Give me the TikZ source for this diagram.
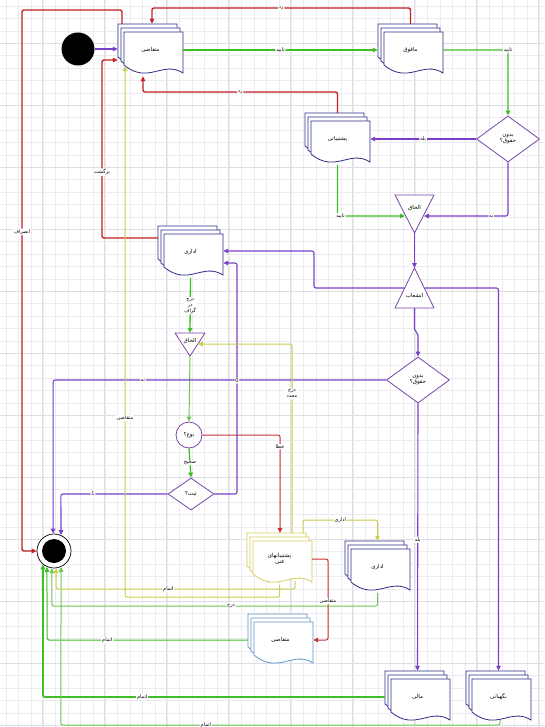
\documentclass[tikz,border=0pt]{standalone}
\usepackage{fontspec}
\usetikzlibrary{arrows.meta,shapes.geometric,calc}
\newfontfamily\farsifont[Script=Arabic]{DejaVu Sans}
\TeXXeTstate=1
\newcommand\rl[1]{\beginR#1\endR}
\definecolor{cRed}{RGB}{196,32,36}
\definecolor{cDRed}{RGB}{200,50,55}
\definecolor{cGreen}{RGB}{64,190,40}
\definecolor{cLGreen}{RGB}{110,200,80}
\definecolor{cPurple}{RGB}{120,65,200}
\definecolor{cYellow}{RGB}{205,205,75}
\definecolor{cYNode}{RGB}{215,205,90}
\definecolor{cNavy}{RGB}{45,45,135}
\definecolor{cBlue}{RGB}{95,150,200}
\definecolor{cTri}{RGB}{120,70,170}
\definecolor{cGrid}{RGB}{236,236,240}
\definecolor{cGridM}{RGB}{222,222,228}
\newcommand\onedoc[3]{\filldraw[draw=#3,fill=white,line width=0.8pt] (#1,#2) -- ++(59,0) -- ++(0,41) .. controls +(-20,-13) and +(24,20) .. ++(-59,-8) -- cycle;}
\newcommand\mdoc[5]{\onedoc{#2}{#3}{#4}\onedoc{#2+3}{#3+4}{#4}\onedoc{#2+6}{#3+8}{#4}\node[docn] (#1) at (#2+32.5,#3+26) {#5};}
\begin{document}
\begin{tikzpicture}[x=1pt,y=-1pt,
  >={Triangle[length=5pt,width=4.5pt]},
  every node/.style={font=\farsifont\fontsize{5.5}{6.5}\selectfont},
  docn/.style={minimum width=65pt,minimum height=52pt,inner sep=0pt,align=center},
  lab/.style={fill=white,inner sep=0.8pt,font=\farsifont\fontsize{5}{6}\selectfont,align=center},
  dia/.style={diamond,draw=cTri,fill=white,line width=0.8pt,inner sep=0pt,align=center},
  tri/.style={draw=cTri,fill=white,line width=0.8pt,line join=round},
  trin/.style={inner sep=0pt},
  redl/.style={draw=cRed,line width=1.4pt,rounded corners=2pt},
  dredl/.style={draw=cDRed,line width=1pt,rounded corners=2pt},
  grl/.style={draw=cGreen,line width=1.3pt,rounded corners=2pt},
  glt/.style={draw=cLGreen,line width=1pt,rounded corners=2pt},
  gthick/.style={draw=cGreen,line width=1.8pt,rounded corners=2pt},
  pl/.style={draw=cPurple,line width=1.1pt,rounded corners=2pt},
  yl/.style={draw=cYellow,line width=1pt,rounded corners=2pt}]
\fill[white] (0,0) rectangle (544,727);
\useasboundingbox (0,0) rectangle (544,727);
\foreach \gx in {6,18.4,...,544} \draw[cGrid,line width=0.35pt] (\gx,0) -- (\gx,727);
\foreach \gy in {6,18.4,...,727} \draw[cGrid,line width=0.35pt] (0,\gy) -- (544,\gy);
\foreach \gx in {42,104,...,544} \draw[cGridM,line width=0.4pt] (\gx,0) -- (\gx,727);
\foreach \gy in {43,105,...,727} \draw[cGridM,line width=0.4pt] (0,\gy) -- (544,\gy);
% start / stop
\node[circle,fill=black,minimum size=33pt,inner sep=0pt] (start) at (78,49) {};
\node[circle,draw=black,fill=white,minimum size=34pt,inner sep=0pt,line width=0.7pt] (stop) at (54,551) {};
\fill[black] (stop) circle (12pt);
% documents
\mdoc{app}{118}{24}{cNavy}{\rl{متقاضی}}
\mdoc{boss}{378}{24}{cNavy}{\rl{مافوق}}
\mdoc{supp}{305}{113}{cNavy}{\rl{پشتیبانی}}
\mdoc{adm}{158}{226}{cNavy}{\rl{اداری}}
\mdoc{tech}{247}{533}{cYNode}{\rl{پشتیبانهای}\\\rl{فنی}}
\mdoc{admb}{345}{541}{cNavy}{\rl{اداری}}
\mdoc{appb}{248}{614}{cBlue}{\rl{متقاضی}}
\mdoc{mali}{385}{671}{cNavy}{\rl{مالی}}
\mdoc{guard}{466}{671}{cNavy}{\rl{نگهبانی}}
% decisions
\node[dia,minimum width=63pt,minimum height=46pt] (q1) at (508,139) {\rl{بدون}\\\rl{حقوق؟}};
\node[dia,minimum width=63pt,minimum height=46pt] (q2) at (418,380) {\rl{بدون}\\\rl{حقوق؟}};
\node[dia,minimum width=46pt,minimum height=32pt] (q3) at (191,494) {\rl{ثبت؟}};
\node[circle,draw=cTri,fill=white,line width=0.8pt,minimum size=26pt,inner sep=0pt] (type) at (189,435) {\rl{نوع؟}};
% triangles
\filldraw[tri] (395,195) -- (434,195) -- (414.5,233) -- cycle;
\node[trin] (j1) at (414.5,208) {\rl{الحاق}};
\coordinate (j1a) at (414.5,233);
\coordinate (j1l) at (405,216);
\coordinate (j1r) at (424,216);
\filldraw[tri] (414.5,268) -- (434,308) -- (395,308) -- cycle;
\node[trin] (fork) at (414.5,296) {\rl{انشعاب}};
\coordinate (forka) at (414.5,268);
\coordinate (forkb) at (414.5,308);
\coordinate (forkl) at (404.7,288);
\coordinate (forkr) at (424.3,288);
\filldraw[tri] (175,333) -- (205,333) -- (190,356) -- cycle;
\node[trin] (j2) at (190,341) {\rl{الحاق}};
\coordinate (j2t) at (190,333);
\coordinate (j2a) at (190,356);
\coordinate (j2r) at (197.8,344);
% red connectors
\draw[redl,->] ([xshift=-28.5pt]app.north) -- (122,10) -- (22,10) -- node[lab,pos=.41]{\rl{انصراف}} (22,551) -- (stop.west);
\draw[redl,->] (boss.north) -- (410.5,8) -- node[lab]{\rl{رد}} (152,8) -- ([xshift=1.5pt]app.north);
\draw[redl,->] (supp.north) -- (337.5,92) -- node[lab]{\rl{رد}} (143,92) -- ([xshift=-7.5pt]app.south);
\draw[redl,->] ([yshift=14pt]adm.west) -- (102,238) -- node[lab,pos=.37]{\rl{برگشت}} (102,60) -- ([yshift=-10pt]app.west);
\draw[dredl,->] (type.east) -- (280,435) -- node[lab,pos=.12]{\rl{خطا}} (280,533);
\draw[dredl,->] (tech.east) -- (328,559) -- node[lab,pos=.52]{\rl{متقاضی}} (328,640) -- (appb.east);
% green connectors
\draw[grl,->] (app.east) -- node[lab]{\rl{تایید}} (boss.west);
\draw[grl,->] (boss.east) -- (508,50) node[lab]{\rl{تایید}} -- (q1.north);
\draw[grl,->] (supp.south) -- (337.5,216) node[lab,xshift=3pt]{\rl{تایید}} -- (j1l);
\draw[grl,->] (adm.south) -- node[lab]{\rl{درج}\\\rl{در}\\\rl{گراف}} (j2t);
\draw[glt,->] (j2a) -- (type.north);
\draw[grl,->] (type.south) -- node[lab]{\rl{صحیح}} (q3.north);
\draw[glt,->] (admb.south) -- (377.5,606) -- node[lab,pos=.45]{\rl{درج}} (52,606) -- (stop.263);
\draw[grl,line width=1pt,->] (appb.west) -- node[lab,pos=.7]{\rl{اتمام}} (47.1,640) -- (stop.246);
\draw[gthick,->] (mali.west) -- node[lab,pos=.71]{\rl{اتمام}} (43.1,697) -- (stop.230);
\draw[glt,->] ([xshift=1.5pt,yshift=3pt]guard.south) -- (500,725) -- node[lab,pos=.67]{\rl{اتمام}} (60.9,725) -- (stop.294);
% purple connectors
\draw[pl,line width=1.3pt,->] (start.east) -- (start.east -| app.west);
\draw[pl,->] (q1.west) -- node[lab]{\rl{بله}} (supp.east);
\draw[pl,->] (q1.south) -- (508,216) -- node[lab,pos=.2]{\rl{نه}} (j1r);
\draw[pl,->] (j1a) -- (forka);
\draw[pl,->] (forkl) -- (314,288) -- (314,251) -- ([yshift=1pt]adm.east);
\draw[pl,->] (forkr) -- (498.5,288) -- (guard.north);
\draw[pl,->] (forkb) -- (414.5,331) -- (418,333) -- (q2.north);
\draw[pl,->] (q2.west) -- node[lab,pos=.73]{\rl{نه}} (53.1,380) -- (stop.93);
\draw[pl,->] (q2.south) -- node[lab,pos=.51]{\rl{بله}} (mali.north);
\draw[pl,->] (q3.east) -- (237,494) -- node[lab,pos=.49]{0} (237,263) -- ([yshift=-11pt]adm.east);
\draw[pl,->] (q3.west) -- node[lab,pos=.7]{1} (60.9,494) -- (stop.66);
% yellow connectors
\draw[yl,->] ([xshift=12.5pt]tech.north) -- node[lab,pos=.735]{\rl{درج}\\\rl{مجدد}} (292,344) -- (j2r);
\draw[yl,->] ([xshift=23.5pt]tech.north) -- (303,520) -- node[lab]{\rl{اداری}} (377.5,520) -- (admb.north);
\draw[yl,->] ([xshift=15.5pt,yshift=4pt]tech.south) -- (295,589) -- node[lab,pos=.53]{\rl{اتمام}} (56.1,589) -- (stop.277);
\draw[yl,->] (tech.south) -- (279.5,597) -- (125,597) -- node[lab,pos=.34]{\rl{متقاضی}} (125,70) -- ([xshift=-25.5pt,yshift=10pt]app.south);
\end{tikzpicture}
\end{document}
